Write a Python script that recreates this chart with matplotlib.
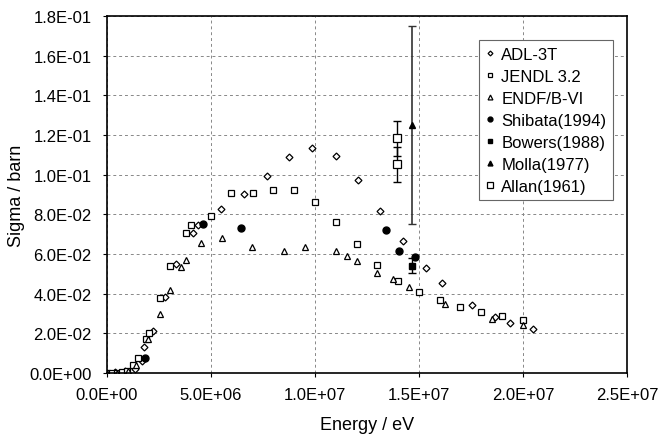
import matplotlib
matplotlib.use("Agg")
import matplotlib.pyplot as plt
from matplotlib.ticker import FormatStrFormatter, MultipleLocator

plt.rcParams['font.family'] = ['Liberation Sans', 'DejaVu Sans']

# ADL-3T
adl_e = [0, 3.8e5, 8.6e5, 1.34e6, 1.68e6, 1.78e6, 2.21e6, 2.77e6, 3.31e6, 4.16e6, 4.40e6,
         5.48e6, 6.57e6, 7.68e6, 8.77e6, 9.88e6, 1.099e7, 1.206e7, 1.313e7, 1.425e7,
         1.534e7, 1.609e7, 1.754e7, 1.867e7, 1.937e7, 2.047e7]
adl_s = [0, 0.0005, 0.001, 0.002, 0.006, 0.013, 0.0212, 0.0385, 0.0548, 0.0704, 0.0748,
         0.0825, 0.0904, 0.0995, 0.1088, 0.1137, 0.1094, 0.0975, 0.0818, 0.0664,
         0.0529, 0.0455, 0.0343, 0.0285, 0.0255, 0.0222]

# JENDL 3.2
jendl_e = [0, 2.4e5, 4.8e5, 7.2e5, 9.6e5, 1.26e6, 1.5e6, 1.90e6, 2.02e6, 2.53e6, 3.01e6,
           3.79e6, 4.03e6, 5.02e6, 5.98e6, 7.01e6, 7.98e6, 9.0e6, 9.98e6, 1.099e7,
           1.20e7, 1.30e7, 1.40e7, 1.499e7, 1.60e7, 1.697e7, 1.798e7, 1.898e7, 1.998e7]
jendl_s = [0, 0.0002, 0.0003, 0.0005, 0.001, 0.0042, 0.0075, 0.0174, 0.0202, 0.0378, 0.0541,
           0.0704, 0.0748, 0.0793, 0.0910, 0.0906, 0.0922, 0.0924, 0.0862, 0.0761,
           0.0652, 0.0545, 0.0464, 0.0410, 0.0370, 0.0335, 0.0308, 0.0287, 0.0270]

# ENDF/B-VI
endf_e = [0, 5e5, 1.0e6, 1.4e6, 1.98e6, 2.53e6, 3.02e6, 3.54e6, 3.79e6, 4.52e6, 5.52e6,
          6.96e6, 8.53e6, 9.53e6, 1.102e7, 1.152e7, 1.201e7, 1.30e7, 1.374e7, 1.451e7,
          1.623e7, 1.85e7, 1.999e7]
endf_s = [0, 0.0003, 0.001, 0.004, 0.0171, 0.0297, 0.0418, 0.0533, 0.0568, 0.0657, 0.0682,
          0.0637, 0.0615, 0.0637, 0.0613, 0.0591, 0.0566, 0.0504, 0.0474, 0.0432,
          0.0346, 0.0272, 0.0240]

# Shibata(1994)
shib_e = [1.82e6, 4.62e6, 6.46e6, 1.342e7, 1.405e7, 1.483e7]
shib_s = [0.0076, 0.0753, 0.0730, 0.0720, 0.0615, 0.0586]

# Bowers(1988)
bow_e = [1.468e7]
bow_s = [0.0541]
bow_err = [0.0037]

# Molla(1977)
molla_e = [1.465e7]
molla_s = [0.1250]
molla_err = [0.050]

# Allan(1961)
allan_e = [1.396e7, 1.396e7]
allan_s = [0.1183, 0.1052]
allan_err = [0.0088, 0.0088]

fig = plt.figure(figsize=(6.6, 4.35), dpi=100)
ax = fig.add_axes([0.162, 0.140, 0.788, 0.821])

# error bars first, markers on top (legend shows markers only)
ax.errorbar(bow_e, bow_s, yerr=bow_err, fmt='none', ecolor='black', elinewidth=1, capsize=3)
ax.errorbar(molla_e, molla_s, yerr=molla_err, fmt='none', ecolor='#333333', elinewidth=1.2, capsize=3)
ax.errorbar(allan_e, allan_s, yerr=allan_err, fmt='none', ecolor='black', elinewidth=1, capsize=3)

ax.plot(adl_e, adl_s, linestyle='none', marker='D', ms=3.5, mfc='white', mec='black', mew=0.9, label='ADL-3T')
ax.plot(jendl_e, jendl_s, linestyle='none', marker='s', ms=5, mfc='white', mec='black', mew=0.9, label='JENDL 3.2')
ax.plot(endf_e, endf_s, linestyle='none', marker='^', ms=5, mfc='white', mec='black', mew=0.9, label='ENDF/B-VI')
ax.plot(shib_e, shib_s, linestyle='none', marker='o', ms=5, mfc='black', mec='black', label='Shibata(1994)')
ax.plot(bow_e, bow_s, linestyle='none', marker='s', ms=5, mfc='black', mec='black', label='Bowers(1988)')
ax.plot(molla_e, molla_s, linestyle='none', marker='^', ms=5, mfc='black', mec='black', label='Molla(1977)')
ax.plot(allan_e, allan_s, linestyle='none', marker='s', ms=6, mfc='white', mec='black', mew=0.9, label='Allan(1961)')

ax.set_xlim(0, 2.5e7)
ax.set_ylim(0, 0.18)
ax.xaxis.set_major_locator(MultipleLocator(5e6))
ax.yaxis.set_major_locator(MultipleLocator(0.02))
ax.xaxis.set_major_formatter(FormatStrFormatter('%.1E'))
ax.yaxis.set_major_formatter(FormatStrFormatter('%.1E'))
ax.tick_params(labelsize=12, length=3, direction='out')
ax.tick_params(axis='x', pad=7)
ax.tick_params(axis='y', pad=8)
ax.grid(True, color='#888888', linestyle=(0, (3, 3)), linewidth=0.7)
ax.set_axisbelow(True)
for s in ax.spines.values():
    s.set_color('black')
    s.set_linewidth(1.2)

ax.set_xlabel('Energy / eV', fontsize=13, labelpad=10)
ax.set_ylabel('Sigma / barn', fontsize=13, labelpad=3)

leg = ax.legend(loc='upper right', bbox_to_anchor=(0.973, 0.933), fontsize=12, markerscale=0.7,
                handlelength=0.5, handletextpad=0.4, labelspacing=0.42, fancybox=False,
                edgecolor='#666666', framealpha=1, borderpad=0.4, borderaxespad=0)
leg.get_frame().set_linewidth(0.8)

fig.savefig('out.png', dpi=100)
